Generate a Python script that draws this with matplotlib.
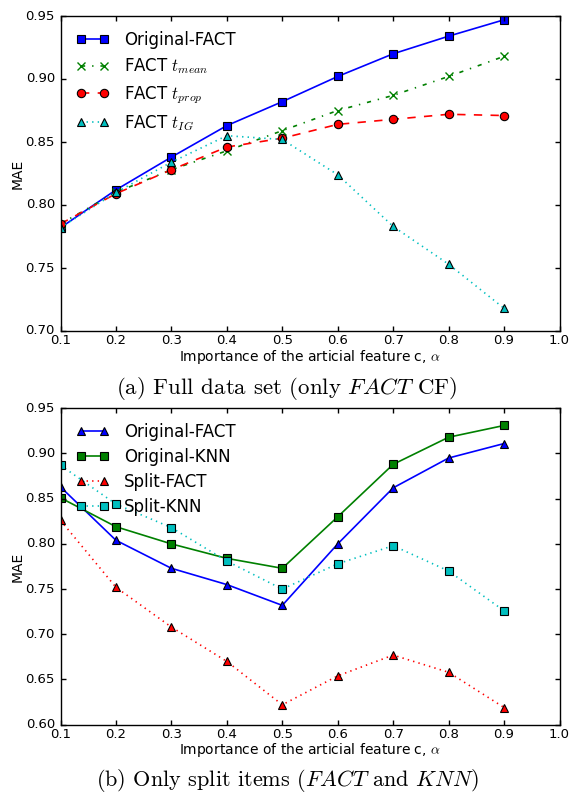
import matplotlib
matplotlib.use("Agg")
import matplotlib.pyplot as plt

plt.style.use("classic")
plt.rcParams["mathtext.fontset"] = "cm"
plt.rcParams["font.family"] = ["DejaVu Sans"]

alpha = [0.1, 0.2, 0.3, 0.4, 0.5, 0.6, 0.7, 0.8, 0.9]

# Panel (a)
orig_fact_a = [0.782, 0.812, 0.838, 0.863, 0.882, 0.902, 0.920, 0.934, 0.947]
fact_tmean = [0.785, 0.810, 0.828, 0.843, 0.859, 0.875, 0.887, 0.902, 0.918]
fact_tprop = [0.785, 0.809, 0.828, 0.846, 0.853, 0.864, 0.868, 0.872, 0.871]
fact_tig = [0.782, 0.810, 0.834, 0.855, 0.852, 0.824, 0.783, 0.753, 0.718]

# Panel (b)
orig_fact_b = [0.863, 0.804, 0.773, 0.755, 0.732, 0.800, 0.862, 0.895, 0.911]
orig_knn_b = [0.851, 0.819, 0.800, 0.784, 0.773, 0.830, 0.888, 0.918, 0.931]
split_fact_b = [0.826, 0.752, 0.708, 0.670, 0.622, 0.654, 0.677, 0.658, 0.619]
split_knn_b = [0.887, 0.844, 0.818, 0.781, 0.750, 0.778, 0.798, 0.770, 0.726]

xticks = [0.1, 0.2, 0.3, 0.4, 0.5, 0.6, 0.7, 0.8, 0.9, 1.0]
yticks_a = [0.70, 0.75, 0.80, 0.85, 0.90, 0.95]
yticks_b = [0.60, 0.65, 0.70, 0.75, 0.80, 0.85, 0.90, 0.95]

W, H = 574, 793
fig = plt.figure(figsize=(W / 100, H / 100), dpi=100, facecolor="white")

def ax_rect(left, top, right, bottom):
    return [left / W, 1 - bottom / H, (right - left) / W, (bottom - top) / H]

ax1 = fig.add_axes(ax_rect(60.5, 16, 559.5, 331))
ax2 = fig.add_axes(ax_rect(60.5, 408.3, 559.5, 724.7))

mk = dict(markersize=6, markeredgewidth=0.8, markeredgecolor="black", linewidth=1.2)

ax1.plot(alpha, orig_fact_a, color="blue", linestyle="-", marker="s", label="Original-FACT", **mk)
ax1.plot(alpha, fact_tmean, color="green", linestyle="-.", marker="x", label=r"FACT $t_{mean}$",
         markersize=6, markeredgewidth=1.0, markeredgecolor="green", linewidth=1.2, dashes=(3, 5, 1, 5))
ax1.plot(alpha, fact_tprop, color="red", linestyle="--", marker="o", label=r"FACT $t_{prop}$", **mk)
ax1.plot(alpha, fact_tig, color="c", linestyle=":", marker="^", label=r"FACT $t_{IG}$", **mk)

ax2.plot(alpha, orig_fact_b, color="blue", linestyle="-", marker="^", label="Original-FACT", **mk)
ax2.plot(alpha, orig_knn_b, color="green", linestyle="-", marker="s", label="Original-KNN", **mk)
ax2.plot(alpha, split_fact_b, color="red", linestyle=":", marker="^", label="Split-FACT", **mk)
ax2.plot(alpha, split_knn_b, color="c", linestyle=":", marker="s", label="Split-KNN", **mk)

for ax, yt, ylim in [(ax1, yticks_a, (0.70, 0.95)), (ax2, yticks_b, (0.60, 0.95))]:
    ax.set_xlim(0.1, 1.0)
    ax.set_ylim(*ylim)
    ax.set_xticks(xticks)
    ax.set_yticks(yt)
    ax.set_xticklabels(["%.1f" % v for v in xticks])
    ax.set_yticklabels(["%.2f" % v for v in yt])
    ax.tick_params(direction="in", length=3.5, width=1, labelsize=9.5, pad=4,
                   top=True, right=True)
    ax.tick_params(axis="x", pad=2.5)
    for s in ax.spines.values():
        s.set_linewidth(1.0)
    ax.set_xlabel(r"Importance of the articial feature c, $\alpha$", fontsize=10, va="center")
    ax.set_ylabel("MAE", fontsize=10, va="center")
    ax.yaxis.set_label_coords(-0.086, 0.5)
    ax.grid(False)

ax1.xaxis.set_label_coords(0.5, -26.5 / 315)
ax2.xaxis.set_label_coords(0.5, -25.5 / 316.4)

leg1 = ax1.legend(loc="upper left", frameon=False, fontsize=12, numpoints=2,
                  handlelength=2.0, handletextpad=0.9, labelspacing=0.45,
                  borderaxespad=0.6, borderpad=0.3)
leg2 = ax2.legend(loc="upper left", frameon=False, fontsize=12, numpoints=2,
                  handlelength=2.0, handletextpad=0.9, labelspacing=0.42,
                  borderaxespad=0.6, borderpad=0.3)

fig.text(0.5, (H - 389) / H,
         r"(a) Full data set (only $FACT$ CF)",
         ha="center", va="center", fontsize=16.5, family="cmr10")
fig.text(0.5, (H - 780) / H,
         r"(b) Only split items ($FACT$ and $KNN$)",
         ha="center", va="center", fontsize=16, family="cmr10")

fig.savefig("out.png", dpi=100, facecolor="white")
